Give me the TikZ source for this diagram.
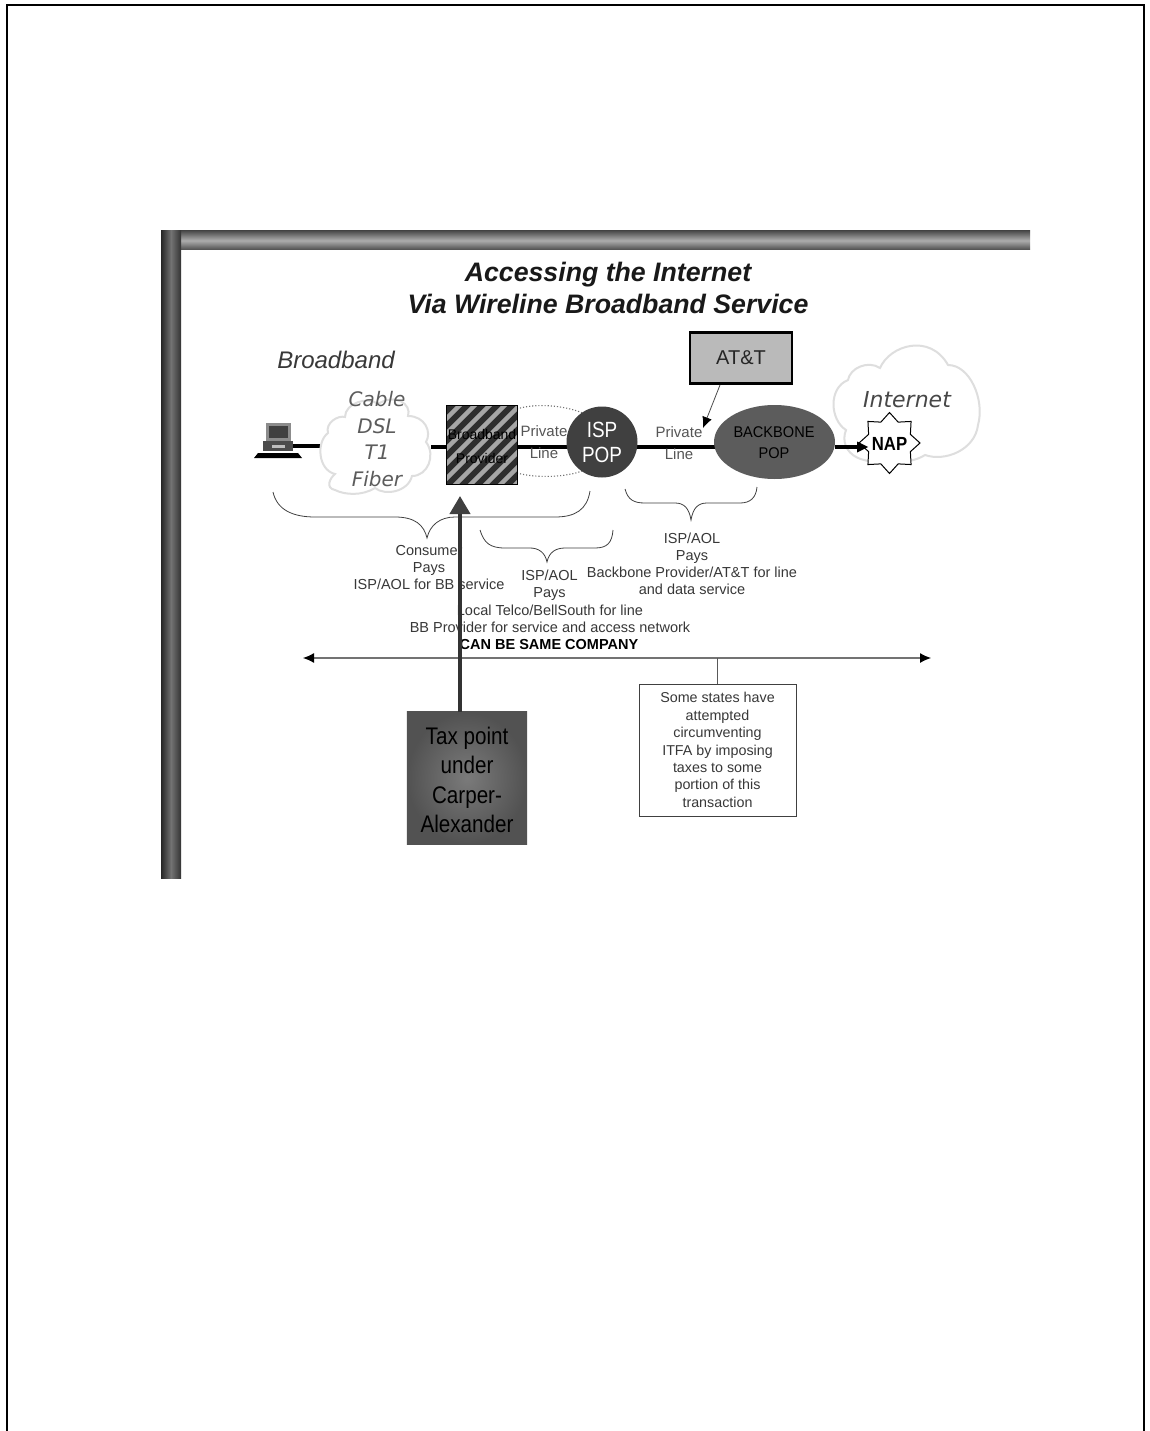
\documentclass[tikz,border=0pt]{standalone}
\usepackage{fontspec}
\setmainfont{Liberation Sans}
\usetikzlibrary{shapes.geometric,arrows.meta,calc}
\pgfdeclarelayer{back}
\pgfsetlayers{back,main}
\definecolor{txt}{gray}{0.22}
\definecolor{cloudc}{gray}{0.87}
\definecolor{cloudt}{gray}{0.36}
\definecolor{popc}{gray}{0.25}
\definecolor{bbc}{gray}{0.36}
\tikzset{
  lbl/.style={font=\fontsize{14.5}{17}\selectfont,text=txt,align=center,inner sep=0pt},
  plbl/.style={text=txt!85,align=center,inner sep=0pt},
  link/.style={line width=4pt,black},
  brace/.style={draw=black!75,line width=0.8pt},
  cloudline/.style={draw=cloudc,line width=2pt,fill=white},
  cloudtext/.style={font=\fontsize{20}{26.5}\selectfont\itshape\fontspec{DejaVu Sans},text=cloudt,align=center,inner sep=0pt},
}
\begin{document}
\begin{tikzpicture}[x=1pt,y=-1pt]
\useasboundingbox (0,0) rectangle (1150,1431);
\begin{pgfonlayer}{back}
\fill[white] (0,0) rectangle (1150,1431);
\end{pgfonlayer}
% page frame
\draw[line width=2pt,black] (7,1431) -- (7,5) -- (1144,5) -- (1144,1431);
% slide bars
\shade[top color=black!70,bottom color=black!70,middle color=black!32] (180,231) rectangle (1030,250);
\shade[left color=black!85,right color=black!80,middle color=black!55] (161,231) rectangle (181,878);
% title
\node[font=\fontsize{26.7}{32}\selectfont\bfseries\itshape,text=black!90,align=center,inner sep=0pt] (title) at (608,288) {Accessing the Internet\\Via Wireline Broadband Service};
\node[font=\fontsize{24}{26}\selectfont\itshape,text=txt,inner sep=0pt] (bb) at (336,360) {Broadband};
% clouds
\draw[cloudline] (335,490) .. controls (325,488) and (330,478) .. (335,474)
  .. controls (318,470) and (316,442) .. (328,433)
  .. controls (325,423) and (338,415) .. (345,417)
  .. controls (345,403) and (368,396) .. (378,404)
  .. controls (395,393) and (412,404) .. (408,416)
  .. controls (425,416) and (432,432) .. (426,442)
  .. controls (436,455) and (428,476) .. (412,476)
  .. controls (408,492) and (385,496) .. (375,488)
  .. controls (362,496) and (345,495) .. (335,490) -- cycle;
\draw[cloudline] (858,458) .. controls (845,452) and (842,440) .. (846,430)
  .. controls (830,420) and (828,388) .. (848,380)
  .. controls (850,368) and (868,360) .. (880,368)
  .. controls (890,345) and (930,333) .. (948,365)
  .. controls (970,365) and (985,400) .. (978,425)
  .. controls (975,450) and (945,462) .. (925,455)
  .. controls (910,465) and (875,465) .. (858,458) -- cycle;
\node[cloudtext] (cloudtxt) at (377,439) {Cable\\DSL\\T1\\Fiber};
\node[font=\fontsize{22}{26}\selectfont\itshape\fontspec{DejaVu Sans},text=black!72,inner sep=0pt] (inet) at (907,400) {Internet};
% computer
\coordinate (pc) at (293,446);
\fill[black!45] (266,423) rectangle (291,441);
\fill[black!75] (269,426) rectangle (288,438);
\fill[black!70] (263,441) rectangle (293,451);
\fill[black!25] (272,445) rectangle (285,448);
\fill[black] (254,458) -- (258,453) -- (298,453) -- (302,458) -- cycle;
% shapes
\node[draw=black,line width=1.2pt,minimum width=70pt,minimum height=78pt,inner sep=0pt] (bp) at (482,445) {};
\draw[black!55,dotted,line width=1.1pt] (517,409) .. controls (535,403) and (565,405) .. (585,414);
\draw[black!55,dotted,line width=1.1pt] (517,473) .. controls (535,478) and (565,478) .. (585,470);
\coordinate (jl) at (bp.west |- 0,447);
\coordinate (jr) at (bp.east |- 0,447);
\node[circle,fill=popc,minimum size=71pt,inner sep=0pt] (isp) at (602,442) {};
\node[ellipse,fill=bbc,minimum width=121pt,minimum height=74pt,inner sep=0pt] (bone) at (774.5,442) {};
% links
\coordinate (cl) at (320,446);
\coordinate (cr) at (431,447);
\coordinate (ispc) at (isp.center |- 0,447);
\coordinate (bonec) at (bone.center |- 0,447);
\coordinate (bonee) at (bone.east |- 0,447);
\coordinate (naptail) at (860,447);
\begin{pgfonlayer}{back}
\draw[link] (pc) -- (cl);
\draw[link] (cr) -- (jl);
\draw[link] (jr) -- (ispc);
\draw[link] (ispc) -- (bonec);
\end{pgfonlayer}
\draw[link] (bonee) -- (naptail);
\node[star,star points=8,star point ratio=1.35,draw=black,line width=1pt,fill=white,minimum size=61pt,inner sep=0pt] (nap) at (889.5,443) {};
\coordinate (naptip) at (868,447);
\fill[black] (naptip) -- (857,441.5) -- (857,452.5) -- cycle;
\begin{scope}
\clip (447,406) rectangle (517,484);
\fill[black!82] (447,406) rectangle (517,484);
\foreach \k in {0,...,11}{
  \draw[black!35,line width=4.5pt] ({360+\k*15},490) -- ++(90,-90);
}
\end{scope}
\draw[black,line width=1.2pt] (bp.south west) rectangle (bp.north east);
\node[font=\fontsize{14}{24}\selectfont,text=black,align=center,inner sep=0pt] at (482,446) {Broadband\\Provider};
\node[font=\fontsize{15}{22}\selectfont,plbl] (pl1) at (544,442) {Private\\Line};
\node[font=\fontsize{15}{22}\selectfont,plbl] (pl2) at (679,443) {Private\\Line};
\node[font=\fontsize{22}{25}\selectfont,text=white,align=center,inner sep=0pt,xscale=.86] at (602,442) {ISP\\POP};
\node[font=\fontsize{15.5}{21}\selectfont,text=black,align=center,inner sep=0pt,xscale=.94] at (774,443) {BACKBONE\\POP};
\node[font=\fontsize{19}{20}\selectfont\bfseries,inner sep=0pt,xscale=.88] at (889.5,444) {NAP};
% AT&T
\node[draw=black,line width=2.2pt,fill=black!27,minimum width=102pt,minimum height=51pt,inner sep=0pt,font=\fontsize{20}{24}\selectfont,text=black!85] (att) at (741,358) {AT\&T};
\coordinate (attstart) at (720,385);
\coordinate (attend) at (703,428);
\draw[black!70,line width=0.8pt,-{Latex[black,length=11pt,width=10pt]}] (attstart) -- (attend);
% braces
\draw[brace] (273,492) .. controls (277,510) and (293,517) .. (315,517) -- (395,517) .. controls (415,517) and (424,525) .. (427,538)
  .. controls (430,525) and (440,517) .. (455,517) -- (555,517) .. controls (575,517) and (587,510) .. (590,491);
\draw[brace] (480,530) .. controls (484,543) and (490,548) .. (505,548) -- (530,548) .. controls (538,548) and (545,552) .. (547,562)
  .. controls (549,552) and (556,548) .. (565,548) -- (595,548) .. controls (607,548) and (612,543) .. (613,530);
\draw[brace] (625,489) .. controls (628,500) and (634,503) .. (645,503) -- (675,503) .. controls (684,503) and (689,508) .. (691,520)
  .. controls (693,508) and (698,503) .. (707,503) -- (740,503) .. controls (750,503) and (756,498) .. (757,487);
% labels
\node[lbl] (l1) at (429,568) {Consumer\\Pays\\ISP/AOL for BB service};
\node[lbl] (l2) at (549.5,585) {ISP/AOL\\Pays};
\node[lbl] (l3) at (692,563.5) {ISP/AOL\\Pays\\Backbone Provider/AT\&T for line\\and data service};
\node[lbl] (l4) at (550,619) {Local Telco/BellSouth for line\\BB Provider for service and access network};
\node[lbl,font=\fontsize{14.5}{17}\selectfont\bfseries,text=black] (l5) at (549,645) {CAN BE SAME COMPANY};
% span line
\coordinate (sl) at (303,658);
\coordinate (sr) at (931,658);
\draw[black!55,line width=1.1pt,{Latex[black,length=11pt,width=10pt]}-{Latex[black,length=11pt,width=10pt]}] (sl) -- (sr);
% note
\node[draw=black!75,line width=.9pt,fill=white,minimum width=157pt,minimum height=132pt,inner sep=0pt,font=\fontsize{14.3}{17.4}\selectfont,text=txt,align=center] (note) at (717.5,750) {Some states have\\attempted\\circumventing\\ITFA by imposing\\taxes to some\\portion of this\\transaction};
\draw[black!65,line width=0.8pt] (note.north) -- (note.north |- sl);
% tax box
\node[rectangle,minimum width=120pt,minimum height=132pt,inner sep=0pt] (tax) at (467,778) {};
\shade[inner color=black!52,outer color=black!68] (tax.south west) rectangle (tax.north east);
\node[font=\fontsize{24}{29.5}\selectfont,text=black,align=center,inner sep=0pt,xscale=.86] (taxt) at (467,780) {Tax point\\under\\Carper-\\Alexander};
\coordinate (taxtop) at (460,712);
\coordinate (taxtip) at (460,496);
\draw[black!80,line width=4pt,-{Triangle[black!75,length=18pt,width=20pt]}] (taxtop) -- (taxtip);
\end{tikzpicture}
\end{document}
